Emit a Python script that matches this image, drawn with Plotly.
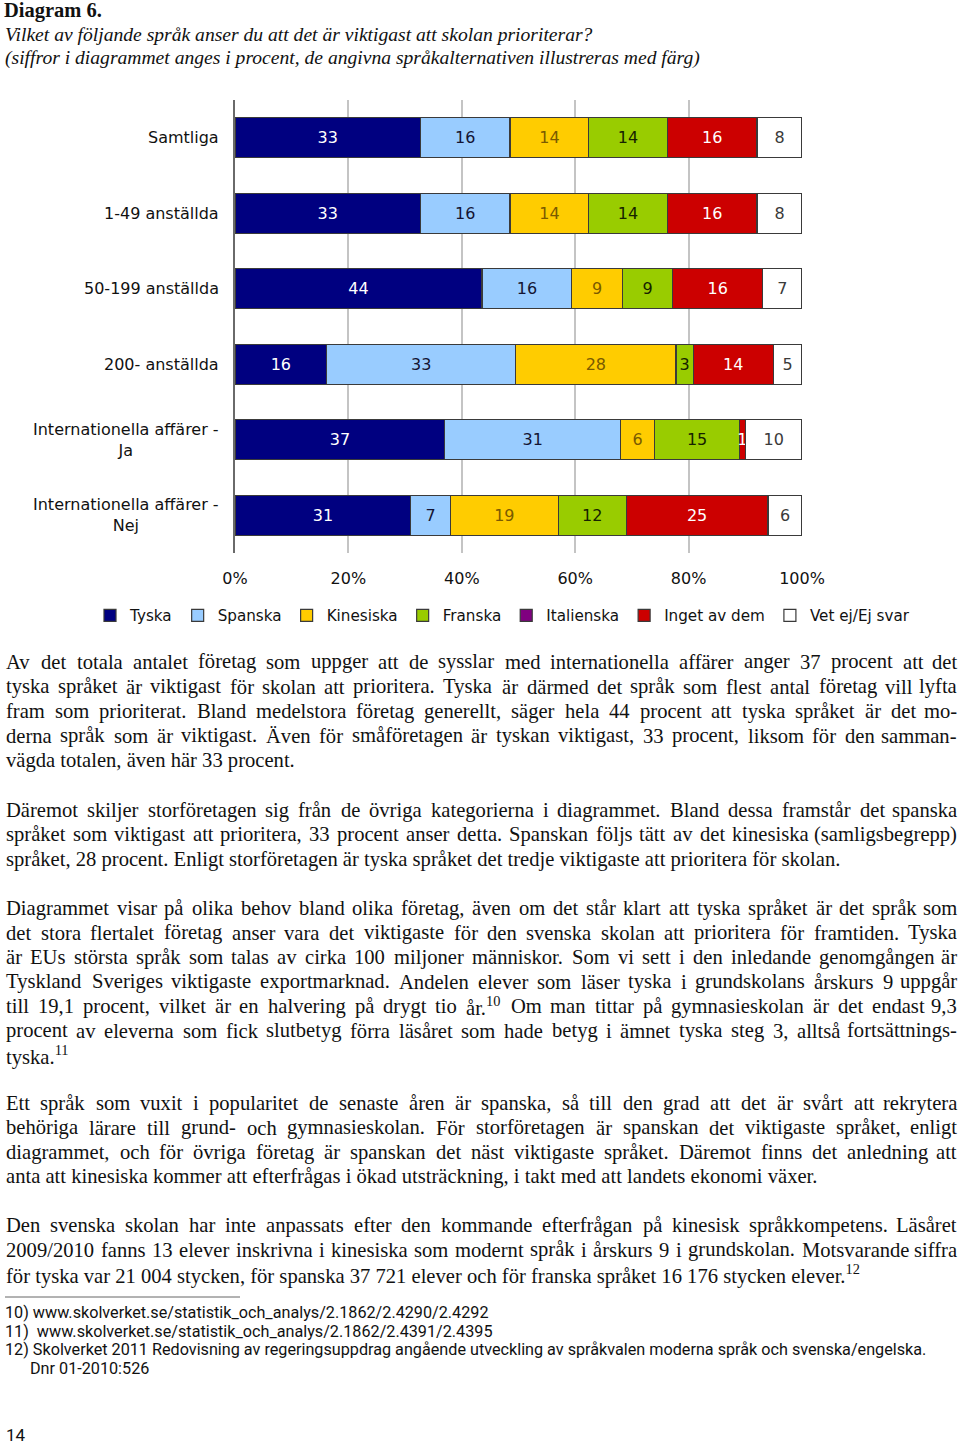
import plotly.graph_objects as go

W, H = 960, 1446

# ---------------- data ----------------
categories = ["Samtliga", "1-49 anställda", "50-199 anställda", "200- anställda",
              "Internationella affärer - Ja", "Internationella affärer - Nej"]
series_names = ["Tyska", "Spanska", "Kinesiska", "Franska", "Italienska",
                "Inget av dem", "Vet ej/Ej svar"]
tyska = [33, 33, 44, 16, 37, 31]
spanska = [16, 16, 16, 33, 31, 7]
kinesiska = [14, 14, 9, 28, 6, 19]
franska = [14, 14, 9, 3, 15, 12]
italienska = [0, 0, 0, 0, 0, 0]
inget_av_dem = [16, 16, 16, 14, 1, 25]
vet_ej = [8, 8, 7, 5, 10, 6]
x_tickvals = [0, 20, 40, 60, 80, 100]
x_ticklabels = ["0%", "20%", "40%", "60%", "80%", "100%"]

title_lines = [
    "Diagram 6.",
    "Vilket av följande språk anser du att det är viktigast att skolan prioriterar?",
    "(siffror i diagrammet anges i procent, de angivna språkalternativen illustreras med färg)",
]

paragraphs = [
    ["Av det totala antalet företag som uppger att de sysslar med internationella affärer anger 37 procent att det",
     "tyska språket är viktigast för skolan att prioritera. Tyska är därmed det språk som flest antal företag vill lyfta",
     "fram som prioriterat. Bland medelstora företag generellt, säger hela 44 procent att tyska språket är det mo-",
     "derna språk som är viktigast. Även för småföretagen är tyskan viktigast, 33 procent, liksom för den samman-",
     "vägda totalen, även här 33 procent."],
    ["Däremot skiljer storföretagen sig från de övriga kategorierna i diagrammet. Bland dessa framstår det spanska",
     "språket som viktigast att prioritera, 33 procent anser detta. Spanskan följs tätt av det kinesiska (samligsbegrepp)",
     "språket, 28 procent. Enligt storföretagen är tyska språket det tredje viktigaste att prioritera för skolan."],
    ["Diagrammet visar på olika behov bland olika företag, även om det står klart att tyska språket är det språk som",
     "det stora flertalet företag anser vara det viktigaste för den svenska skolan att prioritera för framtiden. Tyska",
     "är EUs största språk som talas av cirka 100 miljoner människor. Som vi sett i den inledande genomgången är",
     "Tyskland Sveriges viktigaste exportmarknad. Andelen elever som läser tyska i grundskolans årskurs 9 uppgår",
     "till 19,1 procent, vilket är en halvering på drygt tio år.<sup>10</sup> Om man tittar på gymnasieskolan är det endast 9,3",
     "procent av eleverna som fick slutbetyg förra läsåret som hade betyg i ämnet tyska steg 3, alltså fortsättnings-",
     "tyska.<sup>11</sup>"],
    ["Ett språk som vuxit i popularitet de senaste åren är spanska, så till den grad att det är svårt att rekrytera",
     "behöriga lärare till grund- och gymnasieskolan. För storföretagen är spanskan det viktigaste språket, enligt",
     "diagrammet, och för övriga företag är spanskan det näst viktigaste språket. Däremot finns det anledning att",
     "anta att kinesiska kommer att efterfrågas i ökad utsträckning, i takt med att landets ekonomi växer."],
    ["Den svenska skolan har inte anpassats efter den kommande efterfrågan på kinesisk språkkompetens. Läsåret",
     "2009/2010 fanns 13 elever inskrivna i kinesiska som modernt språk i årskurs 9 i grundskolan. Motsvarande siffra",
     "för tyska var 21 004 stycken, för spanska 37 721 elever och för franska språket 16 176 stycken elever.<sup>12</sup>"],
]
paragraph_tops = [662, 810, 908, 1103, 1225]
line_step = 24.5

footnotes = [
    "10) www.skolverket.se/statistik_och_analys/2.1862/2.4290/2.4292",
    "11)  www.skolverket.se/statistik_och_analys/2.1862/2.4391/2.4395",
    "12) Skolverket 2011 Redovisning av regeringsuppdrag angående utveckling av språkvalen moderna språk och svenska/engelska.",
    "Dnr 01-2010:526",
]
page_number = "14"

# ---------------- styles ----------------
bar_colors = ["#000080", "#99CCFF", "#FFCC00", "#99CC00", "#800080", "#CC0000", "#FFFFFF"]
text_colors = ["#FFFFFF", "#141433", "#7a5a00", "#162200", "#FFFFFF", "#FFFFFF", "#3a3a3a"]
CHART_FONT = "DejaVu Sans"
SERIF = "Liberation Serif"
FOOT_FONT = "Roboto"
BODY_SIZE = 20.6
TEXT_LEFT, TEXT_RIGHT = 5, 958

# Times/Liberation Serif advance widths (1/1000 em) used to justify the body text
_TW = {" ": 250, ",": 250, ".": 250, "-": 333, "(": 333, ")": 333, "/": 278, ":": 278,
       "?": 444, "a": 444, "b": 500, "c": 444, "d": 500, "e": 444, "f": 333, "g": 500,
       "h": 500, "i": 278, "j": 278, "k": 500, "l": 278, "m": 778, "n": 500, "o": 500,
       "p": 500, "q": 500, "r": 333, "s": 389, "t": 278, "u": 500, "v": 500, "w": 722,
       "x": 500, "y": 500, "z": 444, "å": 444, "ä": 444, "ö": 500,
       "A": 722, "B": 667, "C": 667, "D": 722, "E": 611, "F": 556, "G": 722, "H": 722,
       "I": 333, "J": 389, "K": 722, "L": 611, "M": 889, "N": 722, "O": 722, "P": 556,
       "Q": 722, "R": 667, "S": 556, "T": 611, "U": 722, "V": 722, "W": 944, "X": 722,
       "Y": 722, "Z": 611, "Å": 722, "Ä": 722, "Ö": 722}


def word_width(word, size):
    sup = ""
    if "<sup>" in word:
        word, sup = word.split("<sup>")
        sup = sup.replace("</sup>", "")
    w = sum(_TW.get(ch, 500) for ch in word) + 0.7 * sum(_TW.get(ch, 500) for ch in sup)
    return w * size / 1000.0


def px(x):
    return x / W


def py(y):
    return 1 - y / H


series_values = [tyska, spanska, kinesiska, franska, italienska, inget_av_dem, vet_ej]

fig = go.Figure()
for name, vals, col, tcol in zip(series_names, series_values, bar_colors, text_colors):
    has_text = any(v > 0 for v in vals)
    fig.add_trace(go.Bar(
        y=categories, x=vals, name=name, orientation="h",
        marker=dict(color=col, line=dict(color="#3a3a3a", width=1.2)),
        text=[str(v) if v > 0 else None for v in vals] if has_text else None,
        textposition=["inside" if v > 0 else "none" for v in vals] if has_text else "none",
        insidetextanchor="middle", textangle=0,
        constraintext="none",
        textfont=dict(family=CHART_FONT, size=16, color=tcol),
        hoverinfo="name+x",
    ))

annotations = []
# category labels
for c in categories:
    annotations.append(dict(
        x=px(221), xref="paper", y=c, yref="y", xanchor="right", yanchor="middle",
        text=c.replace(" - ", " -<br>"), showarrow=False, align="center",
        font=dict(family=CHART_FONT, size=16, color="#111111"),
    ))


def text_ann(x, y, text, font, xanchor="left"):
    return dict(x=px(x), y=py(y), xref="paper", yref="paper", xanchor=xanchor,
                yanchor="middle", showarrow=False, align="left", text=text,
                borderpad=0, font=font)


# title block
annotations.append(text_ann(3, 11, "<b>" + title_lines[0] + "</b>",
                            dict(family=SERIF, size=20.5, color="#111111")))
for i, t in enumerate(title_lines[1:]):
    annotations.append(text_ann(4, 34 + 24.5 * i, "<i>" + t + "</i>",
                                dict(family=SERIF, size=19.6, color="#111111")))

# body text (justified like the printed page: every line but a paragraph's last)
body_font = dict(family=SERIF, size=BODY_SIZE, color="#111111")
for top, para in zip(paragraph_tops, paragraphs):
    for i, line in enumerate(para):
        y = top + line_step * i
        words = line.split(" ")
        if i == len(para) - 1 or len(words) < 2:
            annotations.append(text_ann(TEXT_LEFT, y, line, body_font))
            continue
        widths = [word_width(w, BODY_SIZE) for w in words]
        gap = (TEXT_RIGHT - TEXT_LEFT - sum(widths)) / (len(words) - 1)
        x = TEXT_LEFT
        for k, (w, wd) in enumerate(zip(words, widths)):
            if k == len(words) - 1:
                annotations.append(text_ann(TEXT_RIGHT, y, w, body_font, xanchor="right"))
            else:
                annotations.append(text_ann(x, y, w, body_font))
            x += wd + gap

# footnotes
foot_y = [1312, 1331, 1349, 1368]
foot_x = [4, 4, 4, 29]
for t, y, x in zip(footnotes, foot_y, foot_x):
    annotations.append(text_ann(x, y, t, dict(family=FOOT_FONT, size=16.2, color="#111111")))
annotations.append(text_ann(5, 1435, page_number, dict(family=FOOT_FONT, size=17, color="#111111")))

fig.update_layout(
    width=W, height=H,
    margin=dict(l=0, r=0, t=0, b=0, autoexpand=False),
    paper_bgcolor="white", plot_bgcolor="white",
    barmode="stack", barnorm="percent", bargap=0.47,
    xaxis=dict(domain=[px(235), px(802)], range=[0, 100], tickvals=x_tickvals,
               ticktext=x_ticklabels, showgrid=True, gridcolor="#c4c4c4", gridwidth=1.5,
               zeroline=False, showline=False, ticks="", ticklabelstandoff=14,
               tickfont=dict(family=CHART_FONT, size=16, color="#111111"), fixedrange=True),
    yaxis=dict(domain=[py(553), py(100)], type="category", categoryorder="array",
               categoryarray=categories, autorange="reversed", showticklabels=False,
               showline=True, linecolor="#6a6a6a", linewidth=2, ticks="", showgrid=False,
               zeroline=False, fixedrange=True),
    legend=dict(orientation="h", x=px(90), xanchor="left", y=py(599), yanchor="top",
                font=dict(family=CHART_FONT, size=15.2, color="#111111"),
                itemwidth=30, traceorder="normal", bgcolor="rgba(0,0,0,0)"),
    annotations=annotations,
    shapes=[dict(type="line", xref="paper", yref="paper", x0=px(5), x1=px(240),
                 y0=py(1297), y1=py(1297), line=dict(color="#666666", width=1))],
    showlegend=True,
)

fig.write_html("out.html")
